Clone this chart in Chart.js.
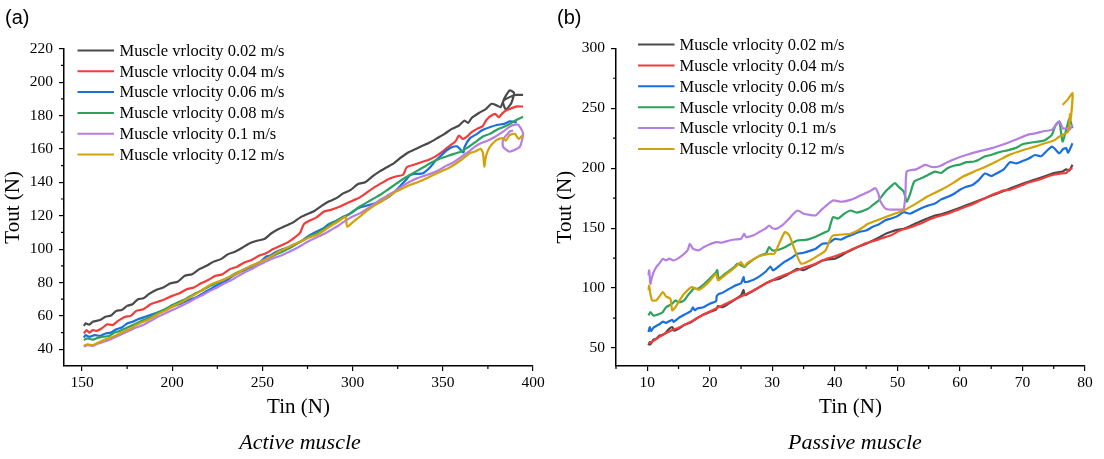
<!DOCTYPE html>
<html>
<head>
<meta charset="utf-8">
<script src="https://cdn.jsdelivr.net/npm/chart.js@4.4.1/dist/chart.umd.min.js"></script>
<style>
  body { margin: 0; background: #fff; }
  #wrap { position: relative; width: 1104px; height: 459px; overflow: hidden; }
  canvas { position: absolute; top: 0; display: block; }
  .panel { position: absolute; top: 5px; font: 20px 'Liberation Sans', Arial, sans-serif; line-height: 24px; color: #000; }
  .caption { position: absolute; top: 429px; width: 400px; text-align: center; font: italic 22px 'Liberation Serif', 'Times New Roman', serif; line-height: 26px; color: #000; }
</style>
</head>
<body>
<div id="wrap">
  <canvas id="activeChart" width="552" height="459" style="left:0"></canvas>
  <canvas id="passiveChart" width="552" height="459" style="left:552px"></canvas>
  <div class="panel" style="left:5px">(a)</div>
  <div class="panel" style="left:557px">(b)</div>
  <div class="caption" style="left:100px">Active muscle</div>
  <div class="caption" style="left:655px">Passive muscle</div>
</div>
<script>
const serif = "'Liberation Serif', 'Times New Roman', serif";

// legend text and line colours, same order in both panels
const speedLabels = ["Muscle vrlocity 0.02 m/s", "Muscle vrlocity 0.04 m/s", "Muscle vrlocity 0.06 m/s",
                     "Muscle vrlocity 0.08 m/s", "Muscle vrlocity 0.1 m/s", "Muscle vrlocity 0.12 m/s"];
const lineColors = ["#4a4a4a", "#f23b3b", "#1a6fe0", "#2ca25f", "#b57ee3", "#d4a108"];

// (a) active muscle: Tin / Tout pairs
const activeTin002 = [151,152,154,156,160,163,166,169,172,175,178,181,184,187,191,195,199,203,207,211,215,219,223,227,231,235,239,243,247,251,255,259,263,267,271,275,279,283,287,291,295,299,303,307,311,315,319,323,327,331,335,339,343,347,351,355,359,362,364,366,370,374,377,380,382,384,387,389.5,388,385,383.4,387,390.8,394.5];
const activeTout002 = [54,55.5,54.8,56.5,57.5,59.5,60.2,63,63.5,66,67,70,70.5,73,75.5,77,79.5,80.5,84,85,88,90,92.5,94,97,98.5,101,103.5,105,106,109.5,112,114,116,119,121,123,126,128.6,130.5,133.5,135.5,139,140,143.5,146.5,149,151.5,155,158,160,162,164,166.5,169,172,174,177,175.5,178.5,181.5,184,187,186,185,190,195,193.5,187.5,183.5,188.3,191,192.3,192.3];

const activeTin004 = [151,152.5,154,156,158,161,164,167,170,174,177,180,184,188,192,196,200,204,208,212,216,220,224,228,232,236,240,244,248,252,256,260,264,268,271,273,276,280,284,288,292,296,300,304,308,312,316,320,324,328,330,334,338,342,346,350,354,357,359,361,363,366,369,372,374,376,379,381,383,385,388,391,394.5];
const activeTout004 = [49.5,51.5,50,51.5,51,52.6,55,54.5,57,59.5,60,63,64,67,68.5,70,72,73.5,76,77,79.5,81.5,84,85,88,89.5,92,93.5,96,97.5,100,102,104,107,110,115,117,119,122.4,123.5,125,127,129,131,134,137,139.5,142,143.5,144.5,149,150.5,152,153.4,155.5,158.5,162,164.5,168,166,167,170,172,173.5,177,179.3,181,179,181.3,183,184.3,185.5,185.3];

const activeTin006 = [151,152,154,157,160,163,166,169,172,175,178,181,185,189,193,197,201,205,209,213,217,221,225,229,233,237,241,245,249,252,254,257,260,264,268,271,275,279,283,287,291,295,299,303,307,311,315,319,323,327,330,332,335,339,343,346,349,352,355,358,360,361.5,362,365,369,372,376,380,384,387,389,391];
const activeTout006 = [47,48.5,47.5,48.5,48,49.5,50,52,53,55.5,56.5,58,59.5,61,62.5,64,66,67.5,69.5,71,73.5,76,78.5,80.5,83.5,86,88,90,92.5,95.5,96,98,99.5,101,103,104.4,107.5,110,112,115,117,119.5,121.5,124.5,125.8,127,128.5,130.5,134,138.5,142,144.4,145,145.4,149,153,156,159,161,161.5,159.3,157.8,161,166.3,169,171.3,173,174.3,175,176.5,176.3,175.8];

const activeTin008 = [151,153,156,159,162,165,168,171,174,177,180,184,188,192,196,200,204,208,212,216,220,224,228,232,236,240,244,248,252,256,260,264,268,272,276,280,284,288,292,296,300,304,308,312,316,320,324,328,332,336,340,344,348,352,356,360,364,368,372,376,380,384,388,391,394.5];
const activeTout008 = [45.5,46.5,45.8,47,47.5,48,50,51,52.5,54,55.5,57.5,59.5,62,64,66.5,68.5,70.5,73,75,77.5,79.5,81.5,83.5,86,88,90,92,94,96,98,100,102.5,105,107.5,109.5,112,115,117.5,119.5,122.5,125.5,128,130.5,133,136,139,142,144.5,147,149.5,152,154,155.5,157,158.3,161,164,167.3,169,171.5,173.3,175.5,177.5,179.3];

const activeTin010 = [151,153,156,159,162,165,168,171,174,177,180,184,188,192,196,200,204,208,212,216,220,224,228,232,236,240,244,248,252,256,260,264,268,272,276,280,284,288,292,296,300,304,308,312,316,320,324,328,332,336,340,344,348,352,356,360,364,368,371,375,379,383,387,390,392,394.5,392.7,387,383.4,383.4,387,389];
const activeTout010 = [41.6,42.5,42,43.5,44.5,45.6,47,48.5,50,51.5,53,54.6,57,59.5,61.5,63.5,65.5,67.5,70,72,74.5,76.5,79,81,83.5,86,88,90.5,92.5,94.5,96,98,100,102.5,105,107,109,111.5,114,117,119.5,121.4,124,127,130,132.5,135,138,140.5,142.5,144,145.5,147.4,150,152,155,158,161.5,163.4,165,167.3,170,173.3,174.5,174.3,169.3,161.3,158.3,161.3,165.3,170.3,171];

const activeTin012 = [151,153,156,159,162,165,168,171,174,177,180,184,188,192,196,200,204,208,212,216,220,224,228,232,236,240,244,248,252,256,260,264,268,272,276,280,284,288,292,296,297,300,304,308,312,316,320,324,328,332,336,339,343,347,351,354,357.6,361,364.9,368,371,372.3,373,374,376,379.7,383,385,387,390,392,394.5];
const activeTout012 = [42,43,42.5,44,45.5,46.6,48,49.5,51,52.5,54.5,56.5,58.5,61,63,65.5,67.5,70,72.5,75,78,80,81.5,83.5,85.5,88,90,92,94,96.5,99,101,103,105,107,108.5,111,114,116.5,119.4,113.4,116,119.5,123,126,128.5,131.5,134.4,136.5,138.5,140,141.4,143.5,145.5,147.5,149,151.4,154,157.4,158.5,160,157.4,149.4,156,161,165.3,166.5,165,168.3,169,166,168.3];

// (b) passive muscle
const passiveTin002 = [10.2,10.4,10.5,11,11.5,12,12.5,13,13.5,14,14.3,15,16,17,18,19,20,21,21.3,22,23,24,25,25.4,25.6,27,28,29,30,31,32,33,34,35,36,37,38,39,40,41,42,43,44,45,46,47,48,49,50,51,52,53,54,55,56,57,58,60,62,64,66,68,70,72,74,75,76.4,77,77.5,78];
const passiveTout002 = [52.2,55,53,57,58,60.5,61,63,66,67.5,64.5,66,69.5,71.5,75,78,80,82,85,84,87,90.5,94,98.5,94,98,101,104,106.4,107.5,110,113,116.1,115,117.5,120,123,124,124.5,127,130,132.5,135,137,139.5,142,145,147,148.5,149.5,151.5,154,156.4,158.5,160.5,161.5,163.3,167,171,175,179,183,187,190.5,194,196,197.2,199,198,202.8];

const passiveTin004 = [10.2,11,12,13,14,15,16,17,18,19,20,21,22,23,24,25,26,27,28,29,30,31,32,33,34,35,36,37,38,39,40,41,42,43,44,45,46,47,48,49,50,51,52,53,54,55,56,57,58,59,60,61,62,63,64,65,66,67,68,69,70,71,72,73,74,75,76,77,77.5,78];
const passiveTout004 = [53.6,56,59.5,62.5,65,67,69.5,72,75,78,80.5,83,85.5,88,90.5,93,95.5,98,101,104,106.5,109,111,113,115,117,118.5,120.5,123,125,126.5,128.5,130.5,133,135,137.5,139,140.5,142.5,144,147,149,150.5,152.5,154.5,157,159,160.5,162,164,166,168,170,172.5,175,177.5,179.5,181.5,182,184,186,188,189.5,191,193,194.5,195.5,196,199,200];

const passiveTin006 = [10.2,10.4,10.6,11,12,12.5,13,14,14.2,15,16,17,17.3,17.6,18,19,20,21,21.1,21.4,22,23,24,25,25.4,25.6,27,28,29,29.7,30.1,31,32,33,34,35,36,37,38,39,40,41,42,43,44,45,46,47,48,49,50,51,52,53,54,55,56,57,58,59,60,61,62,63,64,65,66,67,68,69,70,71,72,73,74,74.7,75.2,75.9,76.5,77,77.3,78];
const passiveTout006 = [63.3,67.5,64,67,70,72,71,73.5,71.7,75,78,81,84,81.5,83,84,87,89,93,95,96,99,102,104,109.2,105,107,110,114,118,114.7,118,122,125,128.6,129.5,131,133,137,137.5,141,140.5,143,145,147,148,151,153,156.4,158,160,163.3,162,164.5,167,169,170.5,174,176,178.5,182,184.5,186,190,195.5,193.5,196,199,205,204,206,208,211,210,215,218,216,212.5,216,216.7,213,220.8];

const passiveTin008 = [10.2,10.5,11,12,12.5,13,14,14.5,15,15.9,16.5,17,17.5,18,19,20,21,21.2,21.4,22,23,24,24.4,25,25.5,26,27,28,29,29.5,30,31,32,33,34,35,36,37,38,38.5,39,39.7,40.5,41.5,42.5,43.5,45.3,46,47,48,49,49.6,50.3,51,51.5,52,52.7,54,54.9,56,57,58,59,60,61,62.3,63,64,65,66,67.9,69,70,71,72.5,73.5,74.7,75.3,75.9,76.4,77,77.5,78];
const passiveTout008 = [77.2,80,77,78.6,80,84,87,89.7,88,89.7,94,97,100,99.4,103,108,113.3,115,107.8,110,114,118,120.3,119,117.5,120,124,127,129,134.2,131.4,132,134,137,139.7,140,141,143,145.5,146.7,148,159.2,158,162,164.7,163,166.1,169,173.1,180,185,187.5,184,180.6,172.2,178,188.9,192,194.4,197.2,196,200,202,203,205,205.6,207,210,211,213,215.3,217,220,221,222.2,223,227.8,236,238.9,222.2,232,241.7,233.3];

const passiveTin010 = [10.2,10.3,10.5,10.7,11,11.5,12,12.5,13,13.5,14.2,15,15.9,16.5,16.8,17.3,18.2,19,20,21,22,23,24,25,25.5,25.8,27,28,29,29.5,30,30.6,31.5,32.5,34,35,36,36.9,38,39.7,41,42.5,44,45.5,46.5,47,47.3,48.2,50,51,51.3,51.5,53,54.4,55.5,56.6,58,59.5,61,63,65.1,67,69,70.8,72,73.5,74.7,75.9,76.5,77,77.5,78];
const passiveTout010 = [110.6,114.7,103.6,108,113,118,121,124.4,123,124.5,123,125,128.6,132,136.9,133,131.4,134,136.5,138.3,138,139.5,140.5,141.1,145.3,142.5,144,147,150,152.2,150,149.4,152,157,164.7,162,161,160.6,166,173.1,172,173.6,177,180.5,183.3,178,172.2,166,165.5,166,180,197.2,199,202.8,201,201.4,205,208.3,211,214,216.7,220,224,227.8,229,231,231.9,238.9,233,233.3,232,236.1];

const passiveTin012 = [10.2,10.3,10.5,10.8,11.5,12.5,13,13.7,14,14.5,15.2,15.9,17.1,18.2,19,20,21,21.3,22,23,24,25,25.5,26,27,28,29.5,30.3,31,32,32.7,33.5,34.6,36,37,38.5,39.2,39.7,42.5,44,45.3,47,49,51,52.5,53.8,55,57,59,60.5,62.3,64,66,67.9,70,72,73.6,75,75.9,77.3,77.6,77.7,78,77.2,76.4];
const passiveTout012 = [98,102,95,89.7,90,96.7,93,91.1,81.4,84,90,95.3,100.8,98.6,101,106,111.9,106.4,109,113,117,121.7,118,121,124,127,128.6,128.6,136,146.7,144,133,120.3,123,126,131.4,140,143.9,145.3,149,153.6,157,161,164.7,169,173.1,177,182,188,193,197.2,201,206,211.1,215,218,220.8,223,226.4,230.6,245,240,262.5,257,252.8];

// axis ticks
const activeXTicks = [150, 200, 250, 300, 350, 400];
const activeXMinor = [175, 225, 275, 325, 375];
const activeYTicks = [40, 60, 80, 100, 120, 140, 160, 180, 200, 220];
const activeYMinor = [50, 70, 90, 110, 130, 150, 170, 190, 210];
const passiveXTicks = [10, 20, 30, 40, 50, 60, 70, 80];
const passiveXMinor = [5, 15, 25, 35, 45, 55, 65, 75];
const passiveYTicks = [50, 100, 150, 200, 250, 300];
const passiveYMinor = [75, 125, 175, 225, 275];

// legend drawn inside the plot, Origin style
const insideLegend = {
    id: 'insideLegend',
    afterDraw(chart, args, o) {
        const ctx = chart.ctx;
        ctx.save();
        ctx.font = `16.5px ${serif}`;
        ctx.textBaseline = 'middle';
        chart.data.datasets.forEach((ds, i) => {
            const y = o.top + i * o.gap;
            ctx.strokeStyle = ds.borderColor;
            ctx.lineWidth = 2;
            ctx.beginPath();
            ctx.moveTo(o.x1, y);
            ctx.lineTo(o.x2, y);
            ctx.stroke();
            ctx.fillStyle = '#000';
            ctx.fillText(ds.label, o.textX, y + 1);
        });
        ctx.restore();
    }
};

// small outward ticks between the labelled ones
const minorTicks = {
    id: 'minorTicks',
    afterDraw(chart, args, o) {
        const ctx = chart.ctx, xs = chart.scales.x, ys = chart.scales.y;
        ctx.save();
        ctx.strokeStyle = '#000';
        ctx.lineWidth = 1.2;
        ctx.beginPath();
        o.x.forEach(v => {
            const px = xs.getPixelForValue(v);
            ctx.moveTo(px, xs.top);
            ctx.lineTo(px, xs.top + 3);
        });
        o.y.forEach(v => {
            const py = ys.getPixelForValue(v);
            ctx.moveTo(ys.right, py);
            ctx.lineTo(ys.right - 3, py);
        });
        ctx.stroke();
        ctx.restore();
    }
};

function toPoints(xs, ys) {
    return xs.map((x, i) => ({x: x, y: ys[i]}));
}

function axis(min, max, tickList, title, horizontal) {
    const opts = {
        type: 'linear',
        position: horizontal ? 'bottom' : 'left',
        min: min,
        max: max,
        afterBuildTicks: sc => { sc.ticks = tickList.map(v => ({value: v})); },
        border: {display: true, color: '#000', width: 1.5},
        grid: {drawOnChartArea: false, drawTicks: true, tickLength: 5, color: '#000', lineWidth: 1.2},
        ticks: {color: '#000', font: {family: serif, size: 15.5}, padding: horizontal ? 3 : 6, maxRotation: 0, autoSkip: false},
        title: {display: true, text: title, color: '#000', font: {family: serif, size: 21}}
    };
    if (horizontal) {
        opts.afterFit = sc => { sc.height = 93; };
        opts.title.padding = {top: 0, bottom: 38.5};
    } else {
        opts.afterFit = sc => { sc.width = 64; };
        opts.title.padding = {top: 1, bottom: 0};
    }
    return opts;
}

function makeChart(id, tins, touts, xAxis, yAxis, legendPos, minor, padTop) {
    const n = tins.length;
    const datasets = tins.map((xs, i) => ({
        label: speedLabels[i],
        data: toPoints(xs, touts[i]),
        borderColor: lineColors[i],
        backgroundColor: lineColors[i],
        borderWidth: 2.2,
        pointRadius: 0,
        showLine: true,
        tension: 0.2,
        order: n - 1 - i
    }));
    return new Chart(document.getElementById(id), {
        type: 'scatter',
        data: {datasets: datasets},
        options: {
            responsive: false,
            animation: false,
            layout: {padding: {top: padTop, right: 19, left: 0, bottom: 0}},
            scales: {x: xAxis, y: yAxis},
            plugins: {
                legend: {display: false},
                tooltip: {enabled: false},
                insideLegend: legendPos,
                minorTicks: minor
            }
        },
        plugins: [insideLegend, minorTicks]
    });
}

makeChart('activeChart',
    [activeTin002, activeTin004, activeTin006, activeTin008, activeTin010, activeTin012],
    [activeTout002, activeTout004, activeTout006, activeTout008, activeTout010, activeTout012],
    axis(140, 400, activeXTicks, 'Tin (N)', true),
    axis(30, 220, activeYTicks, 'Tout (N)', false),
    {x1: 77.5, x2: 114, textX: 119.5, top: 50.5, gap: 20.8},
    {x: activeXMinor, y: activeYMinor},
    48.7);

makeChart('passiveChart',
    [passiveTin002, passiveTin004, passiveTin006, passiveTin008, passiveTin010, passiveTin012],
    [passiveTout002, passiveTout004, passiveTout006, passiveTout008, passiveTout010, passiveTout012],
    axis(5, 80, passiveXTicks, 'Tin (N)', true),
    axis(35, 300, passiveYTicks, 'Tout (N)', false),
    {x1: 86, x2: 122.5, textX: 127.5, top: 44.5, gap: 20.9},
    {x: passiveXMinor, y: passiveYMinor},
    48.3);
</script>
</body>
</html>
